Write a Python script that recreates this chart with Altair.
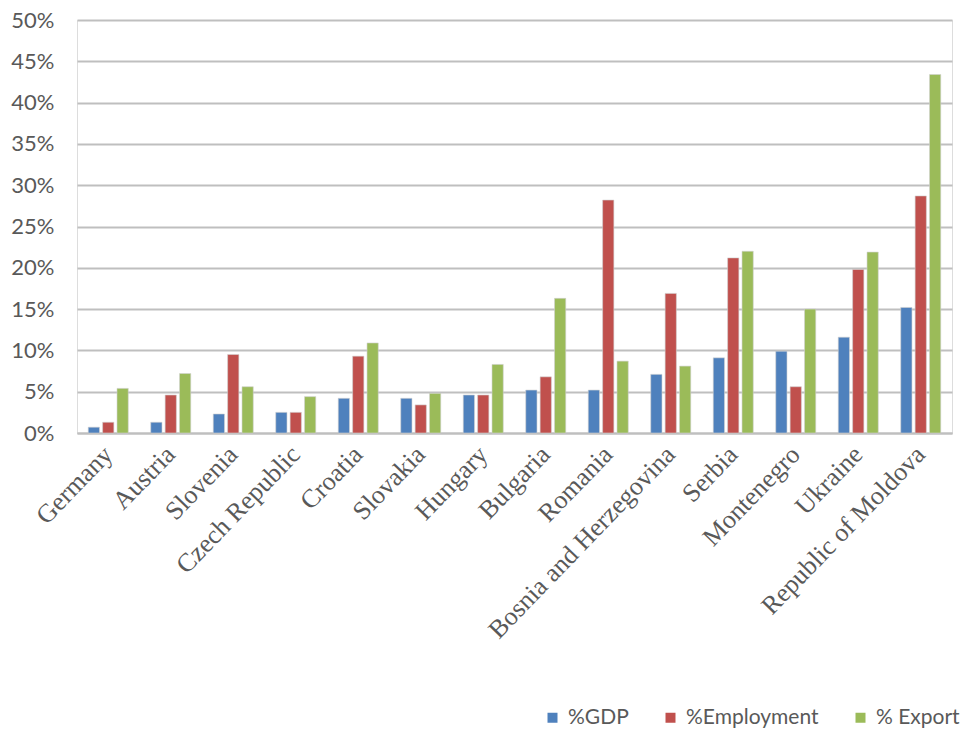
import altair as alt
import pandas as pd

countries = ["Germany", "Austria", "Slovenia", "Czech Republic", "Croatia", "Slovakia",
             "Hungary", "Bulgaria", "Romania", "Bosnia and Herzegovina", "Serbia",
             "Montenegro", "Ukraine", "Republic of Moldova"]
gdp = [0.7, 1.3, 2.3, 2.5, 4.2, 4.2, 4.6, 5.2, 5.2, 7.1, 9.1, 9.9, 11.6, 15.2]
employment = [1.3, 4.6, 9.5, 2.5, 9.3, 3.4, 4.6, 6.8, 28.2, 16.9, 21.2, 5.6, 19.8, 28.7]
export = [5.4, 7.2, 5.6, 4.4, 10.9, 4.8, 8.3, 16.3, 8.7, 8.1, 22.0, 15.0, 21.9, 43.4]
series = ["%GDP", "%Employment", "% Export"]
colors = ["#4F81BD", "#C0504D", "#9BBB59"]

rows = []
for name, vals in zip(series, [gdp, employment, export]):
    for c, v in zip(countries, vals):
        rows.append({"Country": c, "Series": name, "Value": v / 100})
df = pd.DataFrame(rows)

chart = alt.Chart(df).mark_bar(stroke="#d0d0d0", strokeWidth=0.6).encode(
    x=alt.X("Country:N", sort=countries, title=None,
            scale=alt.Scale(paddingInner=0.36, paddingOuter=0.18),
            axis=alt.Axis(labelAngle=314, labelAlign="right", labelBaseline="middle",
                          labelFont="Liberation Serif", labelFontSize=26,
                          labelColor="#595959", labelPadding=17, ticks=False,
                          domainColor="#BFBFBF", domainWidth=2, labelLimit=500)),
    xOffset=alt.XOffset("Series:N", sort=series,
                        scale=alt.Scale(paddingInner=0.22)),
    y=alt.Y("Value:Q", title=None,
            scale=alt.Scale(domain=[0, 0.5], nice=False),
            axis=alt.Axis(format=".0%", values=[i * 0.05 for i in range(11)],
                          labelFont="Lato", labelFontSize=22, labelColor="#595959",
                          labelPadding=23, ticks=False, domain=False,
                          gridColor="#BFBFBF", gridWidth=2)),
    color=alt.Color("Series:N", sort=series,
                    scale=alt.Scale(domain=series, range=colors),
                    legend=alt.Legend(title=None, orient="none", legendX=465, legendY=687,
                                      direction="horizontal", symbolType="square",
                                      symbolSize=100, symbolStrokeWidth=0,
                                      labelFont="Lato", labelFontSize=21,
                                      labelColor="#595959", columnPadding=31,
                                      labelOffset=5)),
).properties(
    width=875, height=413,
    padding={"left": 77, "top": 20, "right": 18, "bottom": 301},
    autosize="none",
).configure_view(stroke=None).configure(background="white")

chart.save("out.html", embed_options={"renderer": "svg", "actions": False})
